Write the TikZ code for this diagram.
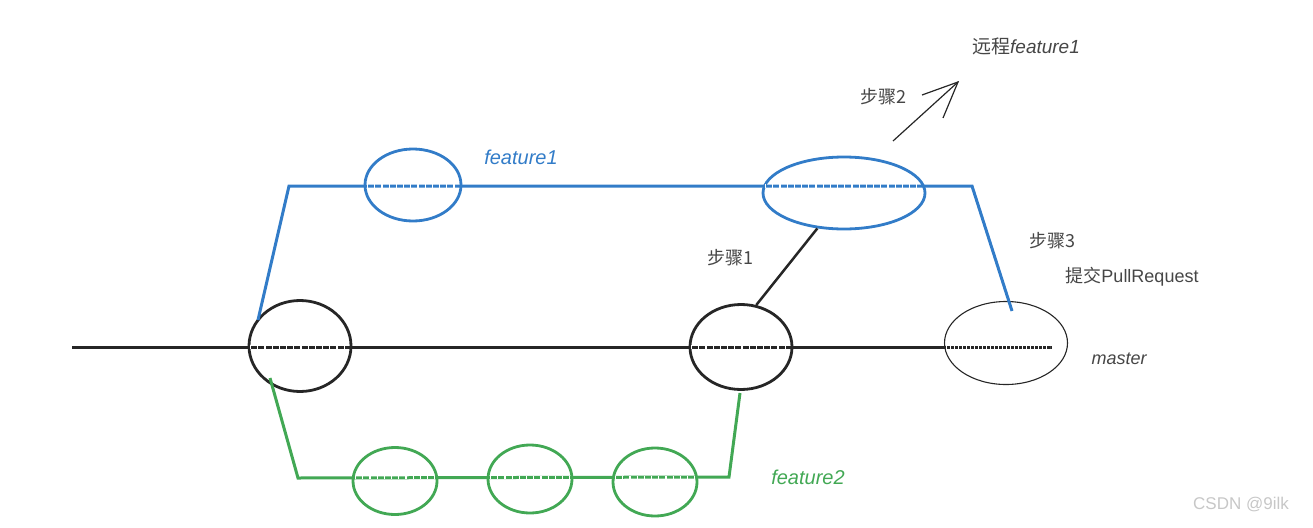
\documentclass[tikz,border=0pt]{standalone}
\usepackage{fontspec}
\setmainfont{Liberation Sans}
\newfontfamily\cjk{Noto Sans CJK SC}
\usetikzlibrary{shapes.geometric}
\definecolor{fblue}{RGB}{50,124,200}
\definecolor{fgreen}{RGB}{66,168,84}
\definecolor{txt}{RGB}{70,70,70}
\tikzset{
  commit/.style={ellipse, draw, line width=2.8pt, inner sep=0pt},
  branch/.style={line width=3pt},
  hatch/.style={white, line width=3.2pt, dash pattern=on 1.2pt off 6pt},
  lbl/.style={inner sep=0pt, font=\fontsize{18}{20}\selectfont, text=txt},
  itl/.style={inner sep=0pt, font=\fontsize{20}{22}\selectfont\itshape},
}
\begin{document}
\begin{tikzpicture}[x=1pt,y=-1pt]
\useasboundingbox (0,0) rectangle (1313,527);
% coordinates
\coordinate (m0) at (72,347);
\coordinate (m1) at (1052,347);
\coordinate (b0) at (258,320);
\coordinate (b1) at (289,186);
\coordinate (b2) at (972,186);
\coordinate (b3) at (1012,311);
\coordinate (g0) at (270,378);
\coordinate (g1) at (298,478);
\coordinate (g2) at (729,477);
\coordinate (g3) at (740,393);
% master
\draw[branch, black!85] (m0) -- (m1);
\node[commit, black!85, minimum width=102pt, minimum height=91pt] (A) at (300,346) {};
\node[commit, black!85, minimum width=102pt, minimum height=85pt] (B) at (741,347) {};
\node[ellipse, draw, black!85, line width=1.1pt, inner sep=0pt, minimum width=123pt, minimum height=83pt] (C) at (1006,343) {};
\draw[hatch] (250,347) -- (350,347);
\draw[hatch] (691,347) -- (791,347);
\draw[white, line width=3.2pt, dash pattern=on 0.8pt off 3.2pt] (946,347) -- (1050,347);
% feature1
\draw[branch, fblue] (b0) -- (b1) -- (b2) -- (b3);
\node[commit, fblue, minimum width=96pt, minimum height=72pt] (D) at (413,185) {};
\node[commit, fblue, minimum width=162pt, minimum height=72pt] (E) at (844,193) {};
\draw[hatch] (367,186) -- (459,186);
\draw[hatch] (765,186) -- (923,186);
% feature2
\draw[branch, fgreen] (g0) -- (g1) -- (g2) -- (g3);
\node[commit, fgreen, minimum width=84pt, minimum height=67pt] (F) at (395,481) {};
\node[commit, fgreen, minimum width=84pt, minimum height=68pt] (G) at (530,479) {};
\node[commit, fgreen, minimum width=84pt, minimum height=68pt] (H) at (655,482) {};
\draw[hatch] (355,477.5) -- (435,477.5);
\draw[hatch] (490,477.5) -- (570,477.5);
\draw[hatch] (615,477.5) -- (695,477.5);
% step 1 link
\draw[line width=2.5pt, black!85] (B.70) -- (E.233);
% step 2 arrow
\coordinate (a0) at (893,141);
\coordinate (a1) at (958,82);
\coordinate (a2) at (922,95);
\coordinate (a3) at (943,118);
\draw[line width=1.2pt, black!85] (a0) -- (a1);
\draw[line width=1.2pt, black!85] (a2) -- (a1) -- (a3);
% labels
\node[itl, text=fblue] (lf1) at (521,157) {feature1};
\node[itl, text=fgreen] (lf2) at (808,477) {feature2};
\node[itl, text=txt, font=\fontsize{18}{20}\selectfont\itshape] (lm) at (1119,359) {master};
\node[lbl, font=\fontsize{19}{21}\selectfont] (lr) at (1026,46) {{\cjk 远程}\itshape feature1};
\node[lbl] (s2) at (883,97) {\cjk 步骤2};
\node[lbl] (s1) at (730,258) {\cjk 步骤1};
\node[lbl] (s3) at (1052,241) {\cjk 步骤3};
\node[lbl] (pr) at (1132,277) {{\cjk 提交}PullRequest};
\node[inner sep=0pt, font=\fontsize{17}{19}\selectfont, text=black!22] (wm) at (1241,505) {CSDN @9ilk};
\end{tikzpicture}
\end{document}
